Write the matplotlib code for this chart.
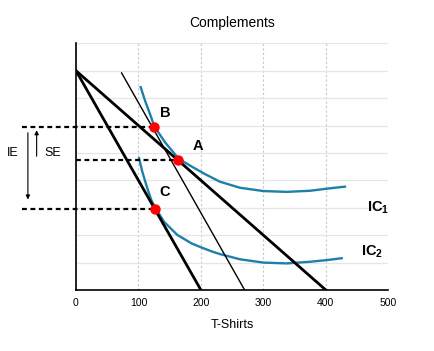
import matplotlib
matplotlib.use("Agg")
from matplotlib import pyplot as plt

plt.rcParams['font.family'] = ['Liberation Sans', 'DejaVu Sans']
plt.rcParams['mathtext.fontset'] = 'custom'
plt.rcParams['mathtext.bf'] = 'Liberation Sans:bold'
plt.rcParams['mathtext.rm'] = 'Liberation Sans'

# budget lines (x, y)
bl1_x = [0, 400]
bl1_y = [8, 0]
bl2_x = [0, 200]
bl2_y = [8, 0]
comp_x = [73, 270]
comp_y = [7.92, 0]

# indifference curves
ic1_x = [103.6, 110.5, 118.5, 125.4, 142.5, 164.4, 182.5, 206.5, 230.5, 262.6,
         299.9, 337.3, 374.6, 406.7, 430.7]
ic1_y = [7.40, 6.91, 6.42, 5.97, 5.39, 4.79, 4.54, 4.23, 3.95, 3.73,
         3.61, 3.58, 3.62, 3.71, 3.77]
ic2_x = [100.9, 106.1, 114.2, 120.6, 126.5, 140.9, 162.2, 185.0, 201.0, 218.2,
         230.5, 262.6, 299.9, 337.3, 374.6, 401.4, 425.4]
ic2_y = [4.81, 4.32, 3.71, 3.28, 3.02, 2.49, 2.01, 1.70, 1.55, 1.40,
         1.31, 1.12, 1.00, 0.97, 1.03, 1.09, 1.16]

# equilibrium points
pt_names = ['B', 'A', 'C']
pt_x = [125, 164, 127]
pt_y = [5.96, 4.76, 2.97]

fig = plt.figure(figsize=(4.35, 3.51), dpi=100)
ax = fig.add_axes([0.1747, 0.1738, 0.7179, 0.7028])

ax.set_xlim(0, 500)
ax.set_ylim(0, 9)
ax.set_xticks([0, 100, 200, 300, 400, 500])
ax.set_yticks(range(0, 10))
ax.set_yticklabels([])
ax.tick_params(length=0, labelsize=7.5, pad=6)
ax.grid(axis='x', color='#c8c8c8', linestyle=(0, (2, 2)), linewidth=0.8)
ax.grid(axis='y', color='#e6e6e6', linestyle='-', linewidth=0.9)
ax.set_axisbelow(True)
for s in ['top', 'right']:
    ax.spines[s].set_visible(False)
ax.spines['left'].set_linewidth(1.2)
ax.spines['bottom'].set_linewidth(1.2)

ax.plot(ic1_x, ic1_y, color='#1f7fa8', lw=1.7, solid_joinstyle='round')
ax.plot(ic2_x, ic2_y, color='#1f7fa8', lw=1.7, solid_joinstyle='round')
ax.plot(bl1_x, bl1_y, color='black', lw=2)
ax.plot(bl2_x, bl2_y, color='black', lw=2)
ax.plot(comp_x, comp_y, color='black', lw=1)

# dashed guides out to the left
ax.plot([-86, pt_x[0]], [pt_y[0], pt_y[0]], color='black', lw=1.6, ls=(0, (2.2, 1.6)), clip_on=False)
ax.plot([0, pt_x[1]], [pt_y[1], pt_y[1]], color='black', lw=1.6, ls=(0, (2.2, 1.6)), clip_on=False)
ax.plot([-86, pt_x[2]], [pt_y[2], pt_y[2]], color='black', lw=1.6, ls=(0, (2.2, 1.6)), clip_on=False)

ax.plot(pt_x, pt_y, 'o', color='#ff0000', ms=6.5, zorder=5)
offs = [(18, 0.5), (32, 0.5), (15, 0.6)]
for n, x, y, o in zip(pt_names, pt_x, pt_y, offs):
    ax.text(x + o[0], y + o[1], n, fontsize=10.5, fontweight='bold', ha='center', va='center')

ax.text(483, 3.0, r'$\mathbf{IC}_{\mathbf{1}}$', fontsize=10.5, ha='center', va='center')
ax.text(474, 1.4, r'$\mathbf{IC}_{\mathbf{2}}$', fontsize=10.5, ha='center', va='center')

# IE / SE arrows
ax.annotate('', xy=(-77, 3.2), xytext=(-77, 5.84), annotation_clip=False,
            arrowprops=dict(arrowstyle='-|>', color='black', lw=0.8, mutation_scale=6))
ax.annotate('', xy=(-63, 5.93), xytext=(-63, 4.78), annotation_clip=False,
            arrowprops=dict(arrowstyle='-|>', color='black', lw=0.8, mutation_scale=6))
ax.text(-101, 5.0, 'IE', fontsize=9, ha='center', va='center')
ax.text(-38, 5.0, 'SE', fontsize=9, ha='center', va='center')

ax.set_xlabel('T-Shirts', fontsize=9, labelpad=8)
ax.set_title('Complements', fontsize=10, pad=12)

plt.savefig('out.png', dpi=100)
